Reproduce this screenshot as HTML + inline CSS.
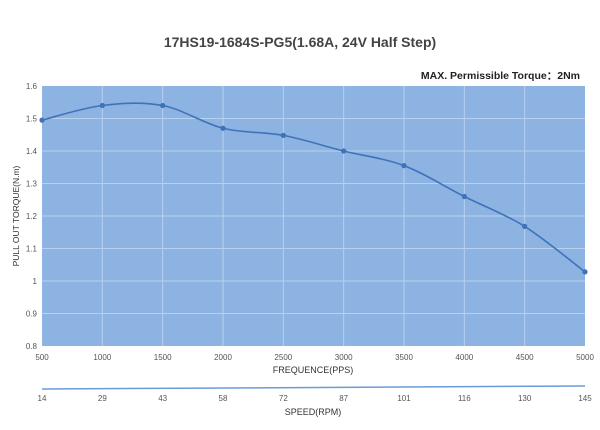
<!DOCTYPE html>
<html><head><meta charset="utf-8"><style>
body{margin:0;background:#fff;width:600px;height:425px;overflow:hidden}
svg text{font-family:"Liberation Sans",sans-serif}
</style></head><body>
<svg id="s" width="600" height="425" xmlns="http://www.w3.org/2000/svg">
<text x="300" y="47" text-anchor="middle" font-size="14" font-weight="bold" fill="#444">17HS19-1684S-PG5(1.68A, 24V Half Step)</text>
<text x="580" y="79" text-anchor="end" font-size="10.5" font-weight="bold" fill="#222">MAX. Permissible Torque：2Nm</text>
<rect x="42" y="86" width="543" height="260" fill="#8db3e2"/>
<g id="grid" stroke="#b9d0ee" stroke-width="1"></g>
<g id="lab" font-size="8" fill="#555"></g>
<text x="313" y="373" text-anchor="middle" font-size="9" fill="#333">FREQUENCE(PPS)</text>
<line x1="42" y1="389" x2="585" y2="386" stroke="#6a9bd8" stroke-width="1.5"/>
<text x="313" y="415" text-anchor="middle" font-size="9" fill="#333">SPEED(RPM)</text>
<text transform="translate(19,216) rotate(-90)" text-anchor="middle" font-size="8.5" fill="#333">PULL OUT TORQUE(N.m)</text>
<path id="curve" fill="none" stroke="#3f73b8" stroke-width="1.6"/>
<g id="pts" fill="#3f73b8"></g>
</svg>
<script>
var ns="http://www.w3.org/2000/svg";
function el(p,t,a,txt){var e=document.createElementNS(ns,t);for(var k in a)e.setAttribute(k,a[k]);if(txt!=null)e.textContent=txt;document.getElementById(p).appendChild(e);}
var X0=42,W=543/9,Y=function(v){return 86+(1.6-v)*325;};
for(var i=1;i<8;i++){var y=86+i*32.5;el("grid","line",{x1:42,x2:585,y1:y,y2:y});}
for(var i=1;i<9;i++){var x=X0+i*W;el("grid","line",{x1:x,x2:x,y1:86,y2:346});}
var yl=["1.6","1.5","1.4","1.3","1.2","1.1","1","0.9","0.8"];
for(var i=0;i<9;i++)el("lab","text",{x:37,y:89+i*32.5,"text-anchor":"end"},yl[i]);
var sp=[14,29,43,58,72,87,101,116,130,145];
for(var i=0;i<10;i++){var x=X0+i*W;el("lab","text",{x:x,y:360,"text-anchor":"middle"},500+i*500);el("lab","text",{x:x,y:401,"text-anchor":"middle"},sp[i]);}
var v=[1.495,1.54,1.54,1.47,1.448,1.40,1.355,1.26,1.168,1.028];
var P=v.map(function(a,i){return [X0+i*W,Y(a)];});
var d="M"+P[0][0]+","+P[0][1];
for(var i=0;i<P.length-1;i++){var p0=P[Math.max(0,i-1)],p1=P[i],p2=P[i+1],p3=P[Math.min(P.length-1,i+2)];
var c1=[p1[0]+(p2[0]-p0[0])/6,p1[1]+(p2[1]-p0[1])/6],c2=[p2[0]-(p3[0]-p1[0])/6,p2[1]-(p3[1]-p1[1])/6];
d+=" C"+c1+" "+c2+" "+p2;}
document.getElementById("curve").setAttribute("d",d);
P.forEach(function(p){el("pts","circle",{cx:p[0],cy:p[1],r:2.6});});
</script>
</body></html>
